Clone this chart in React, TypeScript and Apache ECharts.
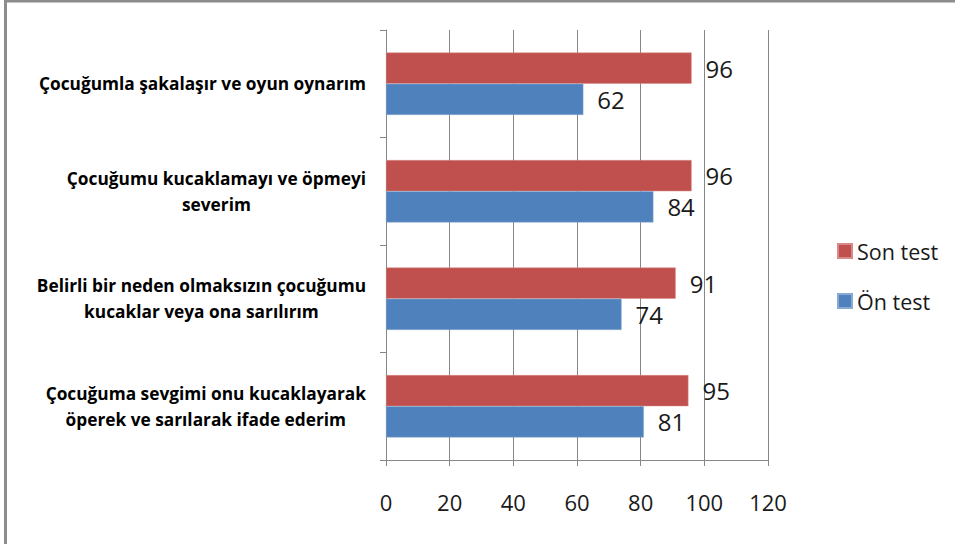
import React, { useEffect, useRef } from "react";
import * as echarts from "echarts";

const categories: string[] = [
  "Çocuğumla şakalaşır ve oyun oynarım",
  "Çocuğumu kucaklamayı ve öpmeyi\nseverim",
  "Belirli bir neden olmaksızın çocuğumu\nkucaklar veya ona sarılırım",
  "Çocuğuma sevgimi onu kucaklayarak\nöperek ve sarılarak ifade ederim",
];
const sonTest: number[] = [96, 96, 91, 95];
const onTest: number[] = [62, 84, 74, 81];
const seriesNames: string[] = ["Son test", "Ön test"];
const xTicks = { min: 0, max: 120, interval: 20 };

const FONT = "'Open Sans', 'Noto Sans', sans-serif";
const AXIS_COLOR = "#868686";

export default function App() {
  const ref = useRef<HTMLDivElement>(null);
  useEffect(() => {
    if (!ref.current) return;
    const chart = echarts.init(ref.current, undefined, { renderer: "svg" });
    const labelStyle = {
      fontSize: 17.3,
      fontWeight: "bold" as const,
      fontFamily: FONT,
      color: "#000",
      lineHeight: 26,
      align: "center" as const,
    };
    const legendText = { fontSize: 21.5, fontFamily: FONT, color: "#1a1a1a" };
    chart.setOption({
      animation: false,
      backgroundColor: "#fff",
      graphic: [
        {
          type: "rect",
          shape: { x: 5.5, y: 1, width: 1000, height: 600 },
          style: { fill: "none", stroke: "#8c8c8c", lineWidth: 3 },
          silent: true,
        },
      ],
      legend: [
        {
          data: [seriesNames[0]],
          left: 832,
          top: 235,
          itemWidth: 14,
          itemHeight: 14,
          icon: "rect",
          textStyle: legendText,
        },
        {
          data: [seriesNames[1]],
          left: 832,
          top: 285,
          itemWidth: 14,
          itemHeight: 14,
          icon: "rect",
          textStyle: legendText,
        },
      ],
      grid: { left: 386, right: 187, top: 30, bottom: 84, containLabel: false },
      xAxis: {
        type: "value",
        min: xTicks.min,
        max: xTicks.max,
        interval: xTicks.interval,
        axisLine: { show: true, lineStyle: { color: AXIS_COLOR, width: 1 } },
        axisTick: { show: true, length: 6, lineStyle: { color: AXIS_COLOR } },
        splitLine: { show: true, lineStyle: { color: AXIS_COLOR, width: 1 } },
        axisLabel: {
          fontSize: 22,
          fontFamily: FONT,
          color: "#1a1a1a",
          margin: 31,
        },
      },
      yAxis: {
        type: "category",
        inverse: true,
        data: categories,
        axisLine: { show: true, lineStyle: { color: AXIS_COLOR, width: 1 } },
        axisTick: { show: true, length: 6, lineStyle: { color: AXIS_COLOR } },
        axisLabel: {
          margin: 20,
          align: "right",
          formatter: (v: string) =>
            v
              .split("\n")
              .map((l) => `{c|${l}}`)
              .join("\n"),
          rich: { c: labelStyle },
        },
      },
      series: [
        {
          name: seriesNames[0],
          type: "bar",
          data: sonTest,
          barGap: "0%",
          barCategoryGap: "42%",
          itemStyle: { color: "#C0504D", borderColor: "#d98a88", borderWidth: 0.5 },
          label: {
            show: true,
            position: "right",
            distance: 14,
            fontSize: 24,
            fontFamily: FONT,
            color: "#1a1a1a",
          },
        },
        {
          name: seriesNames[1],
          type: "bar",
          data: onTest,
          barGap: "0%",
          barCategoryGap: "42%",
          itemStyle: { color: "#4F81BD", borderColor: "#8aaad4", borderWidth: 0.5 },
          label: {
            show: true,
            position: "right",
            distance: 14,
            fontSize: 24,
            fontFamily: FONT,
            color: "#1a1a1a",
          },
        },
      ],
    });
    return () => chart.dispose();
  }, []);
  return (
    <div
      ref={ref}
      style={{ position: "fixed", left: 0, top: 0, width: 955, height: 544 }}
    />
  );
}
